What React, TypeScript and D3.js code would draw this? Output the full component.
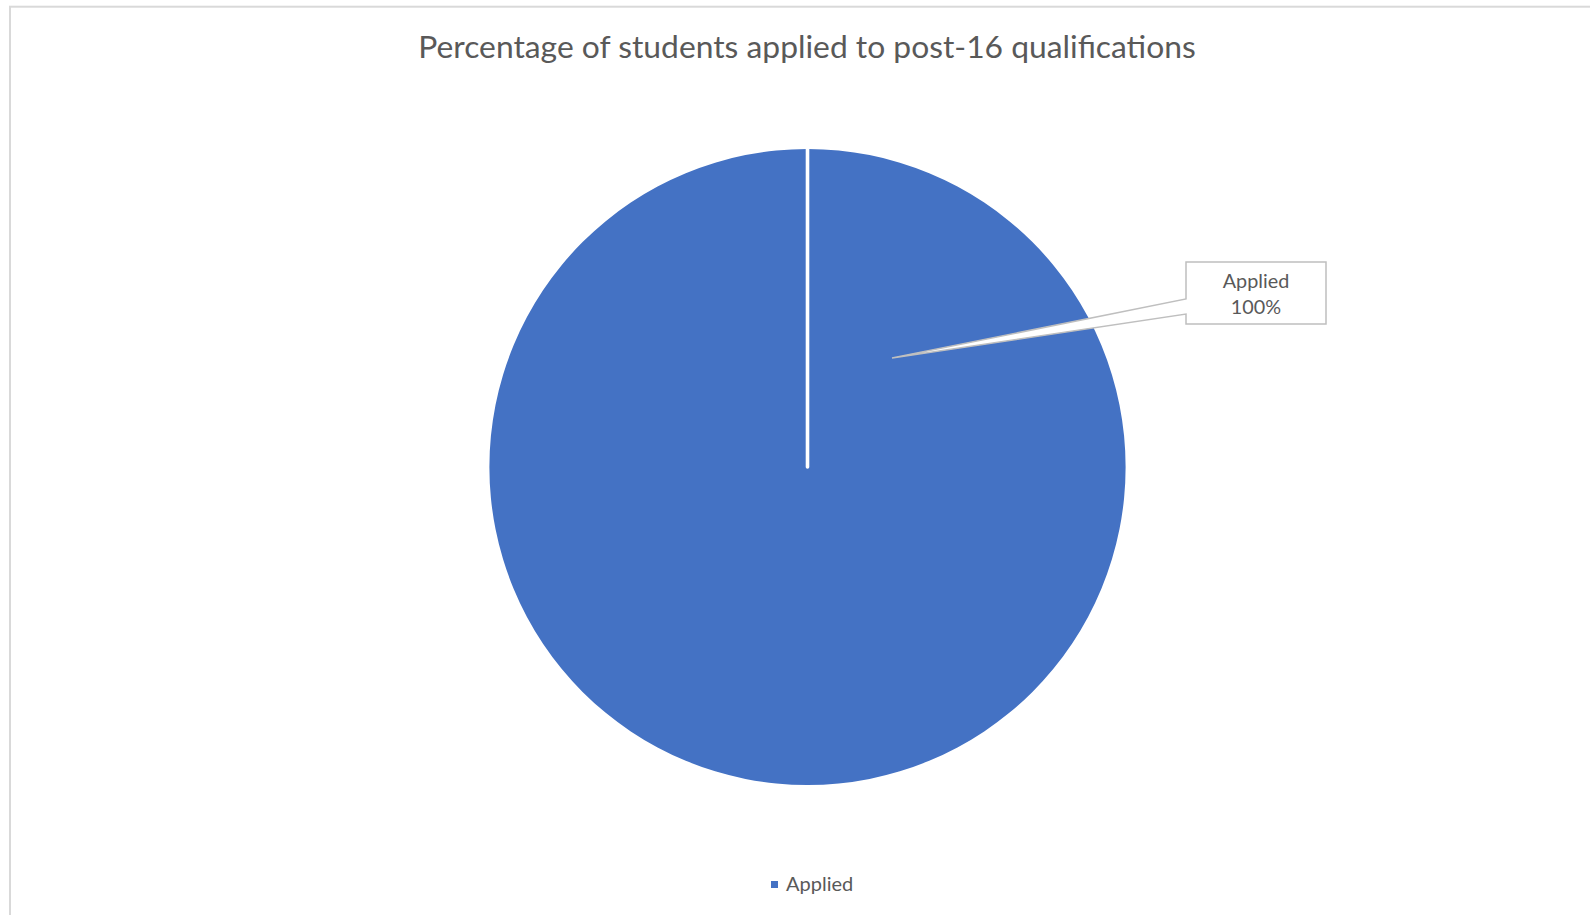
import React from "react";
import * as d3 from "d3";

const categories = ["Applied"];
const values = [100];
const title = "Percentage of students applied to post-16 qualifications";

const W = 1590;
const H = 915;
const COLOR = "#4472C4";
const FONT = "Lato, 'Open Sans', sans-serif";

export default function App() {
  const cx = 807.5;
  const cy = 467;
  const r = 318;

  const pie = d3.pie<number>().sort(null).value((d) => d)(values);
  const arc = d3.arc<d3.PieArcDatum<number>>().innerRadius(0).outerRadius(r);

  const total = d3.sum(values);
  const pct = d3.scaleLinear().domain([0, total]).range([0, 100]);

  return (
    <svg
      width={W}
      height={H}
      style={{ position: "absolute", left: 0, top: 0, background: "#fff" }}
    >
      <rect x={10} y={6.7} width={W + 20} height={H + 20} fill="#fff" stroke="#d9d9d9" strokeWidth={2} />
      <text
        x={807}
        y={58}
        textAnchor="middle"
        fontFamily={FONT}
        fontSize={31.8}
        fill="#595959"
      >
        {title}
      </text>
      <g transform={`translate(${cx},${cy})`}>
        {pie.map((d, i) => (
          <g key={i}>
            <path d={arc(d) || ""} fill={COLOR} />
            <line
              x1={0}
              y1={0}
              x2={Math.sin(d.startAngle) * r}
              y2={-Math.cos(d.startAngle) * r}
              stroke="#fff"
              strokeWidth={3.6}
              strokeLinecap="round"
            />
          </g>
        ))}
      </g>
      {pie.map((d, i) => {
        const bx = 1186, by = 262, bw = 140, bh = 62;
        const tipX = 892, tipY = 358;
        return (
          <g key={"lbl" + i}>
            <path
              d={`M${bx},${by} H${bx + bw} V${by + bh} H${bx} V314 L${tipX},${tipY} L${bx},299 Z`}
              fill="#fff"
              stroke="#bfbfbf"
              strokeWidth={1.5}
            />
            <text x={bx + bw / 2} y={287.5} textAnchor="middle" fontFamily={FONT} fontSize={19.8} fill="#595959">
              {categories[i]}
            </text>
            <text x={bx + bw / 2} y={314} textAnchor="middle" fontFamily={FONT} fontSize={19.8} fill="#595959">
              {Math.round(pct(d.value))}%
            </text>
          </g>
        );
      })}
      {categories.map((c, i) => (
        <g key={"lg" + i}>
          <rect x={771} y={881} width={7} height={7} fill={COLOR} />
          <text x={786} y={891} fontFamily={FONT} fontSize={20} fill="#595959">
            {c}
          </text>
        </g>
      ))}
    </svg>
  );
}
